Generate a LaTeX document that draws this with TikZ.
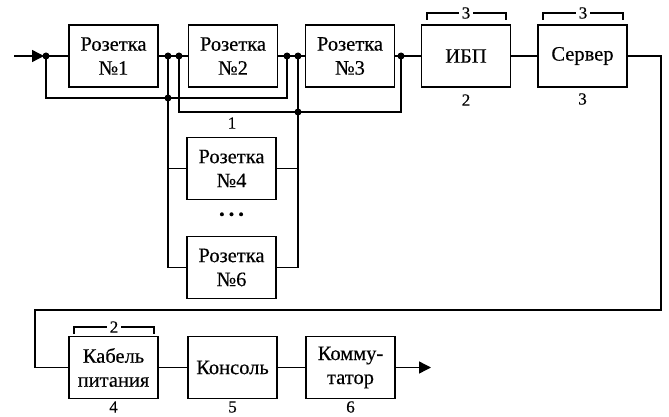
\documentclass[tikz,border=0pt]{standalone}
\usepackage{fontspec}
\setmainfont{Liberation Serif}
\newfontfamily\diagfont[FakeBold=0.35]{Liberation Serif}
\usetikzlibrary{arrows.meta}
\begin{document}
\begin{tikzpicture}[x=1pt,y=-1pt,line width=1.4pt,
  blk/.style={draw,minimum width=89pt,minimum height=62pt,inner sep=0pt,align=center,font=\diagfont\fontsize{20.5}{24}\selectfont},
  lbl/.style={font=\diagfont\fontsize{17}{18}\selectfont,inner sep=0pt},
  dot/.style={circle,fill,inner sep=0pt,minimum size=7pt},
  tip/.style={-{Triangle[length=12pt,width=12pt]}}]
\useasboundingbox (0,0) rectangle (669,417);
% top row
\node[blk] (r1) at (113.5,56) {Розетка\\№1};
\node[blk] (r2) at (233,56) {Розетка\\№2};
\node[blk] (r3) at (350,56) {Розетка\\№3};
\node[blk] (ups) at (466,56) {ИБП};
\node[blk] (srv) at (582.5,56) {Сервер};
\node[blk] (r4) at (231.5,168.5) {Розетка\\№4};
\node[blk] (r6) at (231.5,267.5) {Розетка\\№6};
\node[font=\diagfont\fontsize{16}{18}\selectfont] (dots) at (231.5,216) {\textbullet\hspace{4pt}\textbullet\hspace{4pt}\textbullet};
% bottom row
\node[blk] (cab) at (113.5,367.5) {Кабель\\питания};
\node[blk] (con) at (232.5,367.5) {Консоль};
\node[blk] (com) at (350.5,367.5) {Комму-\\татор};
% junction coordinates
\coordinate (in) at (14,56);
\coordinate (atip) at (44,56);
\coordinate (d0) at (46,56);
\coordinate (d1) at (168,56);
\coordinate (d2) at (179,56);
\coordinate (d3) at (287,56);
\coordinate (d4) at (298,56);
\coordinate (d5) at (401,56);
\coordinate (b0) at (46,98);
\coordinate (j1) at (168,98);
\coordinate (b3) at (287,98);
\coordinate (c2) at (179,112);
\coordinate (j2) at (298,112);
\coordinate (c5) at (401,112);
\coordinate (l4) at (168,168.5);
\coordinate (l6) at (168,267.5);
\coordinate (rr4) at (298,168.5);
\coordinate (rr6) at (298,267.5);
\coordinate (o1) at (661,56);
\coordinate (o2) at (661,310);
\coordinate (o3) at (35,310);
\coordinate (o4) at (35,367.5);
\coordinate (out) at (431,367.5);
% connectors
\draw[tip] (in) -- (atip);
\draw (atip) -- (r1.west);
\draw (r1.east) -- (r2.west);
\draw (r2.east) -- (r3.west);
\draw (r3.east) -- (ups.west);
\draw (ups.east) -- (srv.west);
\draw (d0) -- (b0) -- (b3) -- (d3);
\draw (d2) -- (c2) -- (c5) -- (d5);
\draw (d1) -- (l6) -- (r6.west);
\draw (l4) -- (r4.west);
\draw (d4) -- (rr6) -- (r6.east);
\draw (rr4) -- (r4.east);
\draw (srv.east) -- (o1) -- (o2) -- (o3) -- (o4) -- (cab.west);
\draw (cab.east) -- (con.west);
\draw (con.east) -- (com.west);
\draw[tip] (com.east) -- (out);
% dots
\foreach \p in {d0,d1,d2,d3,d4,d5,j1,j2} \node[dot] at (\p) {};
% labels
\node[lbl] (n1) at (232,123) {1};
\node[lbl] (n2) at (466,100) {2};
\node[lbl] (n3) at (582.5,99) {3};
\node[lbl] (n4) at (113.5,407) {4};
\node[lbl] (n5) at (232.5,407) {5};
\node[lbl] (n6) at (350.5,407) {6};
% brackets
\draw (427,20) -- (427,13) -- (506,13) -- (506,20);
\node[lbl,fill=white,inner xsep=3pt] (k1) at (466,13) {3};
\draw (543,20) -- (543,13) -- (623,13) -- (623,20);
\node[lbl,fill=white,inner xsep=3pt] (k2) at (583,13) {3};
\draw (74,334) -- (74,327) -- (154,327) -- (154,334);
\node[lbl,fill=white,inner xsep=3pt] (k3) at (114,327) {2};
\end{tikzpicture}
\end{document}
